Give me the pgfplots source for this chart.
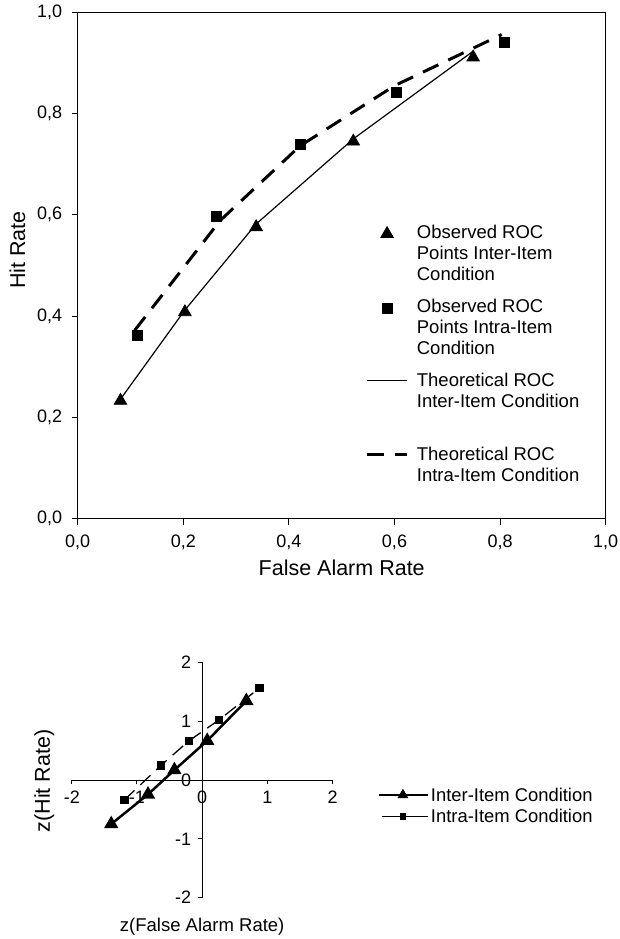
\documentclass[border=0pt]{standalone}
\usepackage{fontspec}
\setmainfont{Liberation Sans}
\usepackage{pgfplots}
\pgfplotsset{compat=1.18}
\pgfplotsset{
  markimg/.style={legend image code/.code={\draw[##1] plot coordinates {(9.8pt,2.4pt)};}},
  lineimg/.style={legend image code/.code={\draw[##1] (0pt,3.2pt) -- (19.65pt,3.2pt);}},
  interimg/.style={legend image code/.code={\draw[black, line width=1.25pt, mark=triangle*, mark size=1.9pt, mark repeat=2, mark phase=2]
     plot coordinates {(0pt,3.3pt) (11.85pt,3.3pt) (24.5pt,3.3pt)};}},
  intraimg/.style={legend image code/.code={\draw[black, line width=0.65pt, solid, mark=square*, mark size=1.3pt, mark repeat=2, mark phase=2]
     plot coordinates {(1.35pt,3.3pt) (11.85pt,3.3pt) (24.5pt,3.3pt)};}},
}

\begin{document}
\begin{tikzpicture}
\useasboundingbox (0pt,0pt) rectangle (310pt,469.5pt);

% ---------------- top ROC plot ----------------
\begin{axis}[
  at={(38.85pt,210.15pt)}, anchor=south west,
  scale only axis, width=264pt, height=253.2pt,
  xmin=0, xmax=1, ymin=0, ymax=1,
  xtick={0,0.2,0.4,0.6,0.8,1}, ytick={0,0.2,0.4,0.6,0.8,1},
  xtick pos=left, ytick pos=left,
  tick align=outside, major tick length=3pt,
  tick style={black, line width=0.5pt},
  axis line style={line width=0.6pt},
  /pgf/number format/use comma,
  /pgf/number format/fixed,
  /pgf/number format/fixed zerofill,
  /pgf/number format/precision=1,
  /pgf/number format/assume math mode=true,
  tick label style={font=\fontsize{9}{10}\selectfont},
  xticklabel style={yshift=-1.5pt},
  yticklabel style={xshift=-1.2pt},
  xlabel={False Alarm Rate}, ylabel={Hit Rate},
  label style={font=\fontsize{10.75}{12}\selectfont},
  xlabel style={at={(axis description cs:0.5,-0.1112)}, anchor=base},
  ylabel style={at={(axis description cs:-0.0998,0.5306)}, anchor=base},
  legend style={at={(axis description cs:0.546,0.586)}, anchor=north west,
    draw=none, fill=none, inner sep=0pt, outer sep=0pt,
    row sep=26.2pt, column sep=3.3pt,
    font=\fontsize{9.25}{10.5}\selectfont,
    cells={anchor=base west}, nodes={inner sep=1pt}},
]
\addplot[only marks, mark=triangle*, mark size=3.6pt, black, markimg]
  coordinates {(0.081,0.233) (0.203,0.408) (0.338,0.576) (0.522,0.745) (0.749,0.911)};
\addlegendentry{\begin{tabular}[t]{@{}l@{}}Observed ROC\\Points Inter-Item\\Condition\end{tabular}}

\addplot[only marks, mark=square*, mark size=2.5pt, black, markimg]
  coordinates {(0.1135,0.3615) (0.2635,0.596) (0.421,0.740) (0.603,0.8415) (0.809,0.941)};
\addlegendentry{\begin{tabular}[t]{@{}l@{}}Observed ROC\\Points Intra-Item\\Condition\end{tabular}}

\addplot[black, line width=0.6pt, no markers, lineimg]
  coordinates {(0.081,0.236) (0.203,0.412) (0.338,0.582) (0.522,0.750) (0.750,0.924)};
\addlegendentry{\begin{tabular}[t]{@{}l@{}}Theoretical ROC\\Inter-Item Condition\\ \mbox{}\end{tabular}}

\addplot[black, line width=1.5pt, no markers, dash pattern=on 8.5pt off 5.5pt, lineimg]
  coordinates {(0.108,0.372) (0.270,0.589) (0.421,0.736) (0.600,0.855) (0.803,0.956)};
\addlegendentry{\begin{tabular}[t]{@{}l@{}}Theoretical ROC\\Intra-Item Condition\end{tabular}}
\end{axis}

% ---------------- bottom z-ROC plot ----------------
\begin{axis}[
  at={(35.9pt,20.65pt)}, anchor=south west,
  scale only axis, width=130.4pt, height=117.7pt,
  axis lines=middle, axis line style={-, line width=0.5pt},
  xmin=-2, xmax=2, ymin=-2, ymax=2, enlargelimits=false,
  xtick={-2,-1,0,1,2}, ytick={-2,-1,0,1,2},
  hide obscured x ticks=false, hide obscured y ticks=false,
  tick align=outside, major tick length=2pt,
  tick style={black, line width=0.5pt},
  /pgf/number format/assume math mode=true,
  tick label style={font=\fontsize{9}{10}\selectfont},
  xlabel={z(False Alarm Rate)}, ylabel={z(Hit Rate)},
  xlabel style={at={(axis description cs:0.5,-0.1457)}, anchor=base,
    font=\fontsize{9.25}{11}\selectfont},
  ylabel style={at={(axis description cs:-0.0836,0.4958)}, anchor=base, rotate=90,
    font=\fontsize{10.75}{12}\selectfont},
  legend style={at={(axis description cs:1.174,0.469)}, anchor=north west,
    draw=none, fill=none, inner sep=0pt, outer sep=0pt,
    row sep=1.45pt, column sep=0.25pt,
    font=\fontsize{9.2}{10.5}\selectfont,
    cells={anchor=base west}, nodes={inner sep=0.5pt}},
]
\addplot[black, line width=1.25pt, mark=triangle*, mark size=2.9pt, interimg]
  coordinates {(-1.395,-0.748) (-0.831,-0.244) (-0.426,0.170) (0.077,0.668) (0.677,1.345)};
\addlegendentry{Inter-Item Condition}

\addplot[black, line width=0.65pt, dash pattern=on 7pt off 4pt, mark=square*, mark size=1.8pt,
  mark options={solid}, intraimg]
  coordinates {(-1.195,-0.340) (-0.631,0.250) (-0.206,0.663) (0.256,1.020) (0.878,1.563)};
\addlegendentry{Intra-Item Condition}
\end{axis}
\end{tikzpicture}
\end{document}
